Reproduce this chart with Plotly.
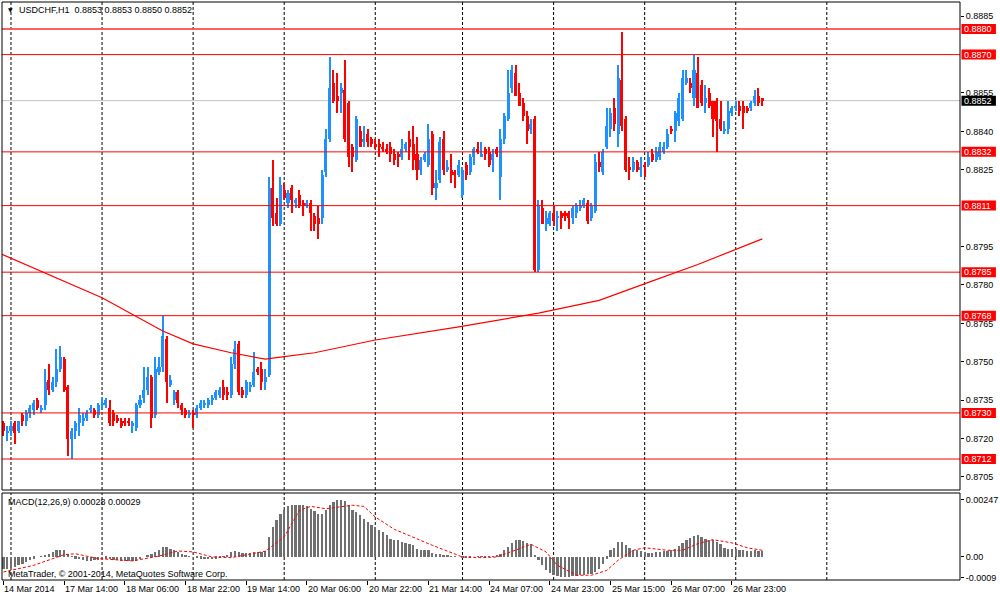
import plotly.graph_objects as go

BASE = 0.8700
PIP = 0.0001

# ---------------- data (prices in pips above 0.8700) ----------------
open_p = [26,22,23,26,23,29,27,30,31,35,
          31,33,43,39,42,47,51,40,20,23,
          26,27,28,31,31,29,33,33,32,30,
          28,27,27,27,25,24,33,36,39,44,
          29,46,48,59,41,35,38,33,31,29,
          30,29,32,33,33,35,36,37,40,38,
          37,49,57,39,37,40,41,47,47,42,
          45,118,108,104,117,112,118,112,115,112,
          111,112,107,106,106,124,137,159,154,155,
          156,151,134,129,140,136,139,137,135,135,
          134,133,134,131,131,130,133,137,135,131,
          125,129,127,139,118,121,137,125,125,124,
          123,115,127,124,130,133,130,133,132,129,
          133,122,137,145,157,163,155,151,146,141,
          145,86,110,104,104,108,106,108,108,108,
          106,108,110,111,112,106,109,128,124,134,
          141,149,139,160,145,126,125,128,125,127,
          127,131,129,130,132,134,141,140,144,145,
          159,159,153,163,158,151,155,152,152,145,
          140,141,147,149,150,150,149,149,151,154,153]
high_p = [27,25,27,27,27,30,31,33,35,36,
          33,47,49,44,55,56,52,41,24,27,
          32,30,31,33,32,34,36,36,35,31,
          29,28,28,28,27,34,37,48,48,45,
          52,52,68,60,45,39,39,34,32,31,
          31,33,35,35,36,37,39,40,43,40,
          52,58,58,40,43,42,54,48,50,47,
          122,129,114,122,120,117,119,114,117,113,
          113,113,108,111,125,141,169,164,163,159,
          168,152,135,146,142,142,141,138,137,137,
          136,135,136,133,132,137,136,140,142,138,
          130,132,143,140,125,138,140,129,131,125,
          129,126,128,131,134,136,136,134,134,133,
          134,141,147,164,166,166,159,153,148,145,
          146,113,113,109,109,111,109,109,109,109,
          111,112,113,114,113,112,131,132,133,149,
          149,153,166,179,146,130,130,129,130,128,
          132,133,134,136,136,141,142,148,155,164,
          164,161,170,169,160,158,157,152,153,152,
          144,152,150,152,152,152,150,152,156,157,153]
low_p = [21,19,21,18,22,25,25,28,29,31,
         30,31,37,38,40,46,38,13,12,20,
         21,25,27,30,28,28,31,32,25,25,
         26,24,25,25,22,23,32,34,37,24,
         28,45,46,34,40,33,32,29,28,28,
         24,28,31,32,32,33,35,36,35,35,
         36,47,37,36,36,38,40,45,39,39,
         44,103,103,103,113,110,108,110,110,107,
         110,101,101,98,104,122,136,151,147,147,
         136,126,124,128,134,134,134,134,133,130,
         132,131,128,127,126,129,132,129,125,121,
         123,128,126,115,113,120,123,124,120,118,
         122,114,121,123,127,131,130,129,126,124,
         130,113,135,144,155,154,150,144,135,139,
         85,85,104,101,103,103,101,102,105,102,
         104,106,109,110,104,105,108,124,123,133,
         138,140,134,140,124,121,124,124,122,122,
         126,128,128,129,131,133,139,136,142,144,
         158,155,150,149,150,147,149,138,132,140,
         139,139,146,148,146,141,147,148,150,150,150]
close_p = [23,23,25,22,27,27,30,32,34,32,
           32,42,39,42,47,52,39,20,23,26,
           29,28,30,32,29,33,34,35,26,27,
           27,25,26,26,26,33,35,39,44,28,
           47,48,60,42,43,38,34,31,29,30,
           29,32,34,34,35,36,38,39,37,37,
           49,55,38,37,42,41,46,46,42,44,
           118,106,104,119,114,116,113,113,111,111,
           112,108,104,104,123,137,157,152,152,157,
           137,130,130,145,134,137,136,135,134,134,
           133,132,131,129,130,133,135,134,129,125,
           129,131,137,118,120,136,125,126,123,123,
           127,125,123,130,133,132,131,131,127,131,
           131,137,146,155,164,154,150,146,140,143,
           86,111,104,106,108,105,107,106,107,106,
           110,111,111,113,105,111,128,126,132,142,
           147,143,161,142,125,125,128,125,126,126,
           130,129,132,134,134,139,140,147,153,161,
           161,157,164,149,151,153,150,145,144,141,
           141,148,149,150,148,147,148,151,154,151,152]

# moving average (pips) read at selected bars
ma_idx = [-0.4, 26, 42, 50, 60, 69, 74, 82, 98, 120, 141, 157, 170, 183, 200]
ma_val = [92, 75, 62, 57, 53.5, 51, 52, 53.5, 58.5, 63.6, 69, 74, 81, 88, 98]

# MACD histogram (units of 0.0001)
macd_hist = [-5.0,-5.0,-4.6,-4.3,-3.6,-2.9,-2.2,-1.4,-0.7,0.0,
             0.3,0.7,1.4,2.2,2.9,3.2,3.2,1.2,0.3,-0.7,
             -1.0,-1.4,-1.7,-1.7,-1.4,-1.2,-1.0,-0.7,-1.0,-1.2,
             -1.4,-1.7,-1.7,-1.9,-1.9,-1.7,-1.0,0.0,0.7,1.4,
             2.2,2.9,4.3,4.3,3.6,2.9,2.2,1.4,0.7,0.3,
             0.0,-0.4,-0.7,-1.0,-1.0,-0.9,-0.7,-0.4,0.3,1.0,
             2.2,2.6,2.2,1.7,1.7,1.9,2.0,2.2,2.3,2.5,
             8.7,13.0,15.9,18.8,20.5,21.9,22.4,22.7,22.7,22.4,
             22.1,20.9,19.9,18.8,18.8,20.2,22.4,23.8,24.5,24.8,
             24.2,22.4,20.5,19.5,18.0,16.6,15.2,13.7,13.0,11.8,
             10.8,9.4,7.9,7.5,7.2,6.5,6.1,5.8,5.1,3.6,
             3.2,2.9,3.2,1.7,1.2,1.4,1.0,0.7,0.4,0.3,
             0.0,-0.3,-0.4,-0.3,0.0,0.1,0.3,0.3,0.4,0.4,
             0.7,1.4,2.9,4.3,6.1,7.2,7.2,6.9,6.1,5.8,
             1.0,-1.5,-3.5,-5.5,-6.9,-7.9,-8.4,-8.7,-8.7,-8.7,
             -8.4,-8.4,-7.9,-7.9,-7.5,-7.2,-6.5,-5.1,-3.2,-0.7,
             2.9,4.0,6.5,6.5,5.3,4.0,2.9,2.9,2.5,2.2,
             1.9,1.9,2.0,2.3,2.5,2.6,2.9,3.6,4.6,6.1,
             7.2,8.2,9.1,9.4,8.7,7.9,7.5,7.2,6.5,5.5,
             4.0,3.6,3.6,3.3,3.2,2.9,2.6,2.6,2.9,2.7,2.8]

# MACD signal line (units of 0.0001) read at selected bars
signal_idx = [0, 8, 16, 19, 25, 34, 41, 46, 50, 55, 60, 66, 69, 74, 78, 81, 85, 92, 95, 98,
              103, 113, 121, 126, 130, 136, 139, 143, 146, 151, 155, 159, 162, 166, 169,
              175, 179, 183, 187, 192, 196, 200]
signal_val = [-6.5, -3.6, 1.0, 1.4, -0.7, -1.7, 0.4, 2.6, 2.2, 0.0, -0.3, 1.4, 2.5, 8.7, 20.2,
              21.9, 20.9, 22.4, 21.9, 17.3, 12.0, 5.1, 0.0, -0.3, 0.0, 3.6, 5.5, 2.2, -3.6,
              -7.9, -7.9, -5.8, -1.4, 2.9, 4.0, 2.9, 2.9, 5.8, 7.5, 6.1, 4.0, 2.9]

level_prices = [0.8880, 0.8870, 0.8832, 0.8811, 0.8785, 0.8768, 0.8730, 0.8712]
last_price = 0.8852

xtick_idx = [0, 16, 32, 48, 64, 80, 96, 112, 128, 144, 160, 176, 192]
xtick_text = ["14 Mar 2014", "17 Mar 14:00", "18 Mar 06:00", "18 Mar 22:00", "19 Mar 14:00",
              "20 Mar 06:00", "20 Mar 22:00", "21 Mar 14:00", "24 Mar 07:00", "24 Mar 23:00",
              "25 Mar 15:00", "26 Mar 07:00", "26 Mar 23:00"]
day_idx = [2, 26, 50, 74, 98, 121, 145, 169, 193, 217]

ytick_vals = [0.8705, 0.8720, 0.8735, 0.8750, 0.8765, 0.8780, 0.8795, 0.8825, 0.8840, 0.8855, 0.8885]
macd_tick_vals = [0.00247, 0.0, -0.0009]
macd_tick_text = ["0.00247", "0.00", "-0.0009"]

title_text = "USDCHF,H1  0.8853 0.8853 0.8850 0.8852"
macd_text = "MACD(12,26,9) 0.00028 0.00029"
copyright_text = "MetaTrader, © 2001-2014, MetaQuotes Software Corp."

# ---------------- figure ----------------
FONT = "Liberation Sans, Arial, sans-serif"
BLUE = "#1E90FF"
RED = "#FF0000"

n = min(len(open_p), len(high_p), len(low_p), len(close_p))
idx = list(range(n))
O = [BASE + v * PIP for v in open_p[:n]]
Hh = [BASE + v * PIP for v in high_p[:n]]
Ll = [BASE + v * PIP for v in low_p[:n]]
C = [BASE + v * PIP for v in close_p[:n]]
cols = [BLUE if c >= o else RED for o, c in zip(O, C)]

fig = go.Figure()

# wicks
fig.add_trace(go.Bar(x=idx, y=[h - l for h, l in zip(Hh, Ll)], base=Ll, width=0.3,
                     marker=dict(color=cols, line=dict(width=0)), xaxis="x", yaxis="y",
                     hoverinfo="skip"))
# bodies
fig.add_trace(go.Bar(x=idx, y=[max(abs(c - o), 0.4 * PIP) for o, c in zip(O, C)],
                     base=[min(o, c) for o, c in zip(O, C)], width=0.8,
                     marker=dict(color=cols, line=dict(width=0)), xaxis="x", yaxis="y",
                     hoverinfo="skip"))
# moving average
fig.add_trace(go.Scatter(x=ma_idx, y=[BASE + v * PIP for v in ma_val], mode="lines",
                         line=dict(color=RED, width=1.2), xaxis="x", yaxis="y"))

# MACD
mh = macd_hist[:n]
fig.add_trace(go.Bar(x=list(range(len(mh))), y=[v * 1e-4 for v in mh], width=0.6,
                     marker=dict(color="#707070", line=dict(width=0)), xaxis="x", yaxis="y2"))
fig.add_trace(go.Scatter(x=signal_idx, y=[v * 1e-4 for v in signal_val], mode="lines",
                         line=dict(color=RED, width=1, dash="3px,2px"), xaxis="x", yaxis="y2"))

shapes = []
# vertical day separators (dashed), both panels
for d in day_idx:
    for yr in ("y domain", "y2 domain"):
        shapes.append(dict(type="line", xref="x", yref=yr, x0=d, x1=d, y0=0, y1=1,
                           line=dict(color="black", width=1, dash="3px,2px"), layer="below"))
# bid line
shapes.append(dict(type="line", xref="paper", yref="y", x0=0, x1=1, y0=last_price, y1=last_price,
                   line=dict(color="#C0C0C0", width=1), layer="below"))
# horizontal levels
for i, lv in enumerate(level_prices):
    if i == 0:
        ln = dict(color="rgba(255,80,80,0.9)", width=2)
    else:
        ln = dict(color=RED, width=1)
    shapes.append(dict(type="line", xref="paper", yref="y", x0=0, x1=1, y0=lv, y1=lv,
                       line=ln, layer="above"))
# panel borders
for yr in ("y domain", "y2 domain"):
    shapes.append(dict(type="rect", xref="paper", yref=yr, x0=0, x1=1, y0=0, y1=1,
                       line=dict(color="black", width=1), layer="above"))

annotations = []
# price label boxes on the right axis
box_x0 = 1 + 1.5 / 960
box_x1 = 1 + 36 / 960
for lv in level_prices:
    shapes.append(dict(type="rect", xref="paper", yref="y", x0=box_x0, x1=box_x1,
                       ysizemode="pixel", yanchor=lv, y0=-5, y1=5,
                       fillcolor=RED, line=dict(width=0), layer="above"))
    annotations.append(dict(xref="paper", yref="y", x=box_x0, y=lv, text=f"{lv:.4f}",
                            showarrow=False, xanchor="left", yanchor="middle", xshift=1,
                            font=dict(family=FONT, size=9, color="white")))
shapes.append(dict(type="rect", xref="paper", yref="y", x0=box_x0, x1=box_x1,
                   ysizemode="pixel", yanchor=last_price, y0=-5, y1=5,
                   fillcolor="black", line=dict(width=0), layer="above"))
annotations.append(dict(xref="paper", yref="y", x=box_x0, y=last_price, text=f"{last_price:.4f}",
                        showarrow=False, xanchor="left", yanchor="middle", xshift=1,
                        font=dict(family=FONT, size=9, color="white")))

# x tick labels (left aligned at tick)
for xi, tx in zip(xtick_idx, xtick_text):
    annotations.append(dict(xref="x", yref="paper", x=xi, y=0, text=tx, showarrow=False,
                            xanchor="left", yanchor="top", yshift=-2, xshift=-1,
                            font=dict(family=FONT, size=9, color="black")))

# texts inside chart
annotations.append(dict(xref="paper", yref="paper", x=(17 - 2) / 960, y=(580 - 10) / 578,
                        text=title_text, showarrow=False, xanchor="left", yanchor="middle",
                        font=dict(family=FONT, size=9, color="black")))
annotations.append(dict(xref="paper", yref="paper", x=(6 - 2) / 960, y=(580 - 10) / 578,
                        text="▼", showarrow=False, xanchor="left", yanchor="middle",
                        font=dict(family="DejaVu Sans", size=6, color="black")))
annotations.append(dict(xref="paper", yref="paper", x=(6 - 2) / 960, y=(580 - 502) / 578,
                        text=macd_text, showarrow=False, xanchor="left", yanchor="middle",
                        font=dict(family=FONT, size=9, color="black")))
annotations.append(dict(xref="paper", yref="paper", x=(6 - 2) / 960, y=(580 - 574) / 578,
                        text=copyright_text, showarrow=False, xanchor="left", yanchor="middle",
                        font=dict(family=FONT, size=9, color="black")))

fig.update_layout(
    width=1000, height=598,
    margin=dict(l=2, r=38, t=2, b=18, pad=0),
    paper_bgcolor="white", plot_bgcolor="white",
    barmode="overlay", bargap=0, showlegend=False, hovermode=False,
    font=dict(family=FONT, size=9, color="black"),
    xaxis=dict(range=[-0.37, 252.1], anchor="y2", showgrid=False, zeroline=False,
               tickvals=xtick_idx, ticktext=[""] * len(xtick_idx), ticks="outside",
               ticklen=4, tickcolor="black", showline=False, fixedrange=True),
    yaxis=dict(domain=[(580 - 490) / 578, 1], range=[0.869989, 0.889055], side="right",
               anchor="x", showgrid=False, zeroline=False, tickvals=ytick_vals,
               ticktext=[f"{v:.4f}" for v in ytick_vals], ticks="outside", ticklen=3,
               tickcolor="black", showline=False,
               tickfont=dict(family=FONT, size=9, color="black")),
    yaxis2=dict(domain=[0, (580 - 493) / 578], range=[-0.000996, 0.00277], side="right",
                anchor="x", showgrid=False, zeroline=False, tickvals=macd_tick_vals,
                ticktext=macd_tick_text, ticks="outside", ticklen=3, tickcolor="black",
                showline=False, tickfont=dict(family=FONT, size=9, color="black")),
    shapes=shapes,
    annotations=annotations,
)

fig.write_html("out.html", config={"displayModeBar": False})

# remove the browser's default page margin so the figure fills the window exactly
with open("out.html", "r", encoding="utf-8") as f:
    html = f.read()
html = html.replace("<head>", "<head><style>html,body{margin:0;padding:0;overflow:hidden;}</style>", 1)
with open("out.html", "w", encoding="utf-8") as f:
    f.write(html)
